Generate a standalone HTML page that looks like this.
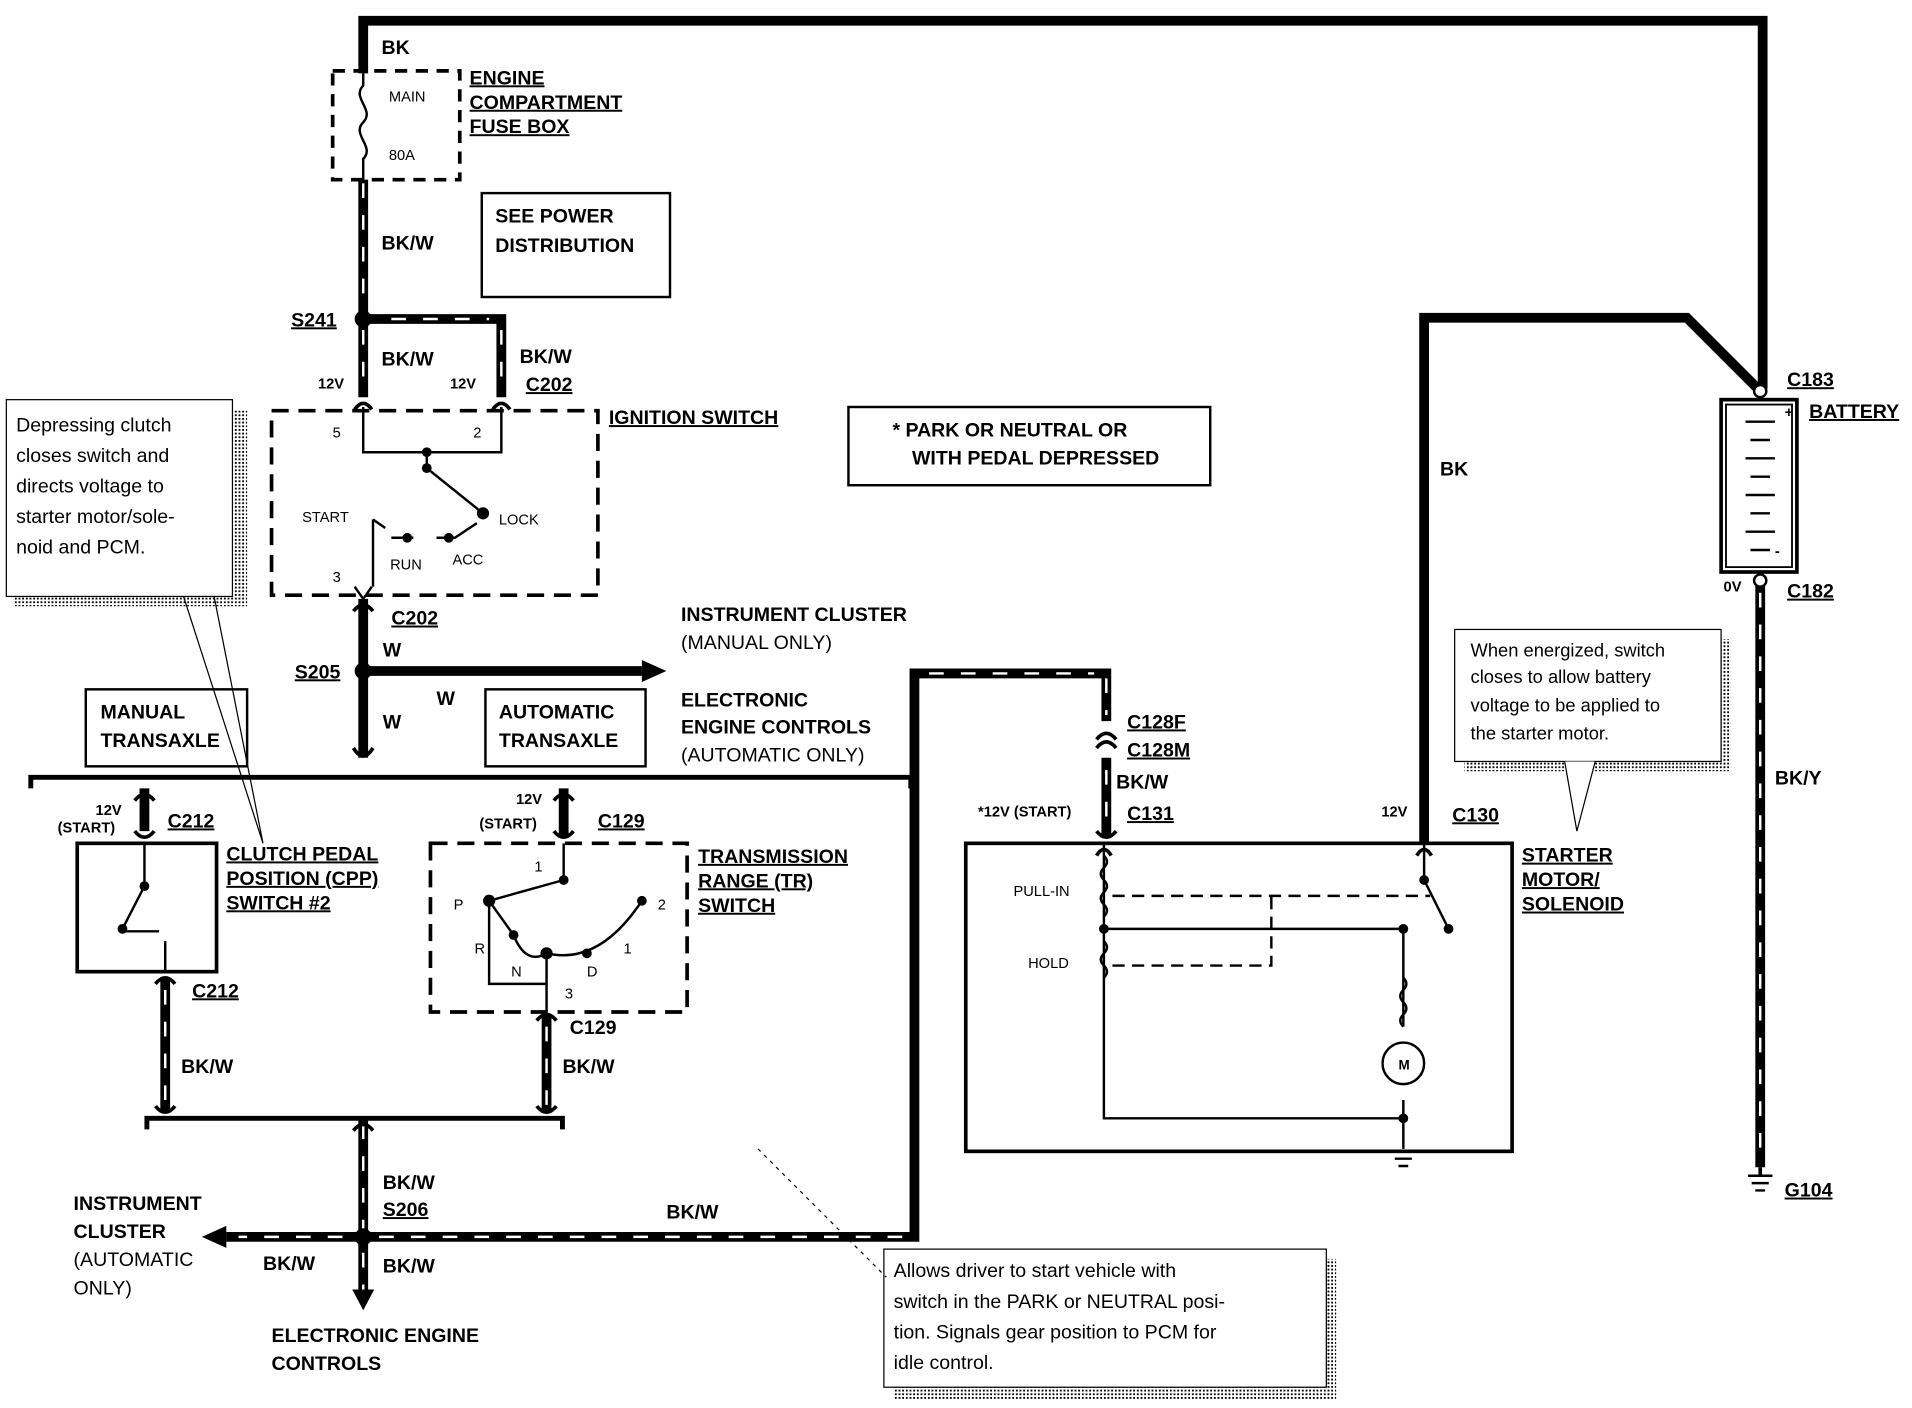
<!DOCTYPE html>
<html><head><meta charset="utf-8"><style>
html,body{margin:0;padding:0;background:#fff}
svg{display:block}
text{font-family:"Liberation Sans",sans-serif;fill:#000}
.b{font-weight:bold;font-size:16px}
.s{font-weight:bold;font-size:12px}
.n{font-size:16px}
.t{font-size:12px}
.u{text-decoration:underline}
</style></head><body>
<svg width="1912" height="1408" viewBox="0 0 1564 1152" xmlns="http://www.w3.org/2000/svg">
<defs>
<pattern id="dot" width="3" height="3" patternUnits="userSpaceOnUse"><rect width="3" height="3" fill="#fff"/><rect width="1.5" height="1.5" fill="#000"/></pattern>
</defs>
<g fill="none" stroke="#000" stroke-linecap="butt">
<polyline points="297,60 297,17 1442,17 1442,318" stroke-width="8"/>
<polyline points="1165,690 1165,260 1380,260 1438,318" stroke-width="8"/>
<rect x="272" y="58" width="104" height="89" stroke-width="3" stroke-dasharray="10,7"/>
<path d="M297,60 L297,70 C287,80 307,90 297,100 C287,110 307,120 297,130 L297,147" stroke-width="2"/>
<g stroke-width="8"><path d="M297,147 V261 H410 V325"/><path d="M297,261 V325"/>
<path d="M297,915 V1010"/><path d="M297,1012 H748 V551 H905 V590"/><path d="M297,1012 H185"/><path d="M297,1012 V1060"/>
<path d="M1440,475 V955"/><path d="M135,800 V910"/><path d="M447,830 V910"/><path d="M905,620 V685"/>
<path d="M297,490 V620"/><path d="M297,549 H525"/></g>
<g stroke="#fff" stroke-width="2" stroke-dasharray="12,14"><path d="M297,150 V255 M320,261 H400 M410,270 V320 M297,270 V320"/>
<path d="M297,920 V1005 M310,1012 H740 V560 M760,551 H895 M905,555 V585 M280,1012 H195 M297,1025 V1055 M1440,485 V950 M135,810 V905 M447,840 V905 M905,630 V680"/></g>
</g>
<g fill="#000">
<polygon points="525,540 545,549 525,558"/>
<polygon points="185,1003 165,1012 185,1021"/>
<polygon points="288,1055 297,1072 306,1055"/>
<circle cx="297" cy="261" r="7"/><circle cx="297" cy="549" r="7"/><circle cx="297" cy="1012" r="7"/>
</g>
<g fill="none" stroke="#000">
<rect x="222" y="336" width="267" height="151" stroke-width="3" stroke-dasharray="14,8"/>
<path d="M290,335 Q297,325 304,335 M403,335 Q410,325 417,335" stroke-width="3"/>
<path d="M297,333 V370 H410 V333 M349,370 V383 L395,420 M305,425 V480 M305,425 L315,432 M320,440 H338 M357,440 H372 L390,428" stroke-width="2"/>
<path d="M290,480 L297,490 L304,480" stroke-width="2"/>
<!-- connector forks -->
<path d="M289,500 Q297,490 305,500 M289,612 Q297,625 305,612 M289,925 Q297,915 305,925" stroke-width="3"/>
<path d="M110,655 Q118,645 126,655 M110,680 Q118,690 126,680 M127,805 Q135,795 143,805 M127,905 Q135,915 143,905" stroke-width="3"/>
<path d="M453,655 Q461,645 469,655 M453,680 Q461,690 469,680 M439,835 Q447,825 455,835 M439,905 Q447,915 455,905" stroke-width="3"/>
<path d="M897,605 Q905,595 913,605 M897,612 Q905,602 913,612 M897,680 Q905,690 913,680 M897,700 Q903,690 909,700 M1159,700 Q1165,690 1171,700" stroke-width="3"/>
<path d="M25,645 V636 H745 V645" stroke-width="4"/>
<path d="M120,924 V915 H460 V924" stroke-width="4"/>
<rect x="394" y="158" width="154" height="85" stroke-width="2"/>
<rect x="694" y="333" width="296" height="64" stroke-width="2"/>
<rect x="70" y="564" width="132" height="63" stroke-width="2"/>
<rect x="397" y="564" width="131" height="63" stroke-width="2"/>
<path d="M118,645 V680" stroke-width="8"/>
<rect x="63" y="690" width="114" height="105" stroke-width="3"/>
<path d="M118,690 V725 L100,760 M100,762 H130 M135,770 V795" stroke-width="2"/>
<path d="M461,645 V685" stroke-width="8"/>
<rect x="352" y="690" width="210" height="138" stroke-width="3" stroke-dasharray="14,8"/>
<path d="M461,690 V720 L400,737 V805 H447 V780 M400,737 L420,765 M447,780 Q490,790 525,737 M447,780 V828 M420,765 Q430,790 447,780" stroke-width="2"/>
<rect x="790" y="690" width="447" height="252" stroke-width="3"/>
<path d="M903,690 V760 M903,760 V915 H1148 M903,760 H1148 V840 M1148,900 V940" stroke-width="2"/>
<path d="M903,700 q5,5 0,10 q-5,5 0,10 q5,5 0,10 q-5,5 0,10 q5,5 0,10 M903,770 q5,5 0,10 q-5,5 0,10 q5,5 0,10 M1148,800 q5,5 0,10 q-5,5 0,10 q5,5 0,10 q-5,5 0,10" stroke-width="2"/>
<path d="M910,733 H1170 M910,790 H1040 V733 M1040,760 V733" stroke-width="2" stroke-dasharray="10,6"/>
<path d="M1165,690 V720 L1185,760" stroke-width="2"/>
<circle cx="1148" cy="870" r="17" stroke-width="2"/>
<path d="M1138,942 H1158 M1141,948 H1155 M1144,954 H1152" stroke-width="2"/>
<rect x="1408" y="327" width="62" height="141" stroke-width="3"/>
<rect x="1412" y="331" width="54" height="133" stroke-width="1.5"/>
<path d="M1428,345 H1452 M1432,360 H1448 M1428,375 H1452 M1432,390 H1448 M1428,405 H1452 M1432,420 H1448 M1428,435 H1452 M1432,450 H1448" stroke-width="2"/>
<path d="M1430,962 H1450 M1433,968 H1447 M1436,974 H1444" stroke-width="2"/>
<path d="M1440,955 V962" stroke-width="3"/>
</g>
<circle cx="1440" cy="320" r="5" fill="#fff" stroke="#000" stroke-width="2"/>
<circle cx="1440" cy="475" r="5" fill="#fff" stroke="#000" stroke-width="2"/>
<g fill="#000"><circle cx="349" cy="370" r="4"/><circle cx="349" cy="383" r="4"/><circle cx="395" cy="420" r="5"/><circle cx="333" cy="440" r="4"/><circle cx="367" cy="440" r="4"/>
<circle cx="118" cy="725" r="4"/><circle cx="100" cy="760" r="4"/><circle cx="461" cy="720" r="4"/><circle cx="400" cy="737" r="5"/><circle cx="420" cy="765" r="4"/><circle cx="447" cy="780" r="5"/><circle cx="480" cy="780" r="4"/><circle cx="525" cy="737" r="4"/>
<circle cx="903" cy="760" r="4"/><circle cx="1148" cy="760" r="4"/><circle cx="1148" cy="915" r="4"/><circle cx="1185" cy="760" r="4"/><circle cx="1165" cy="720" r="4"/></g>
<rect x="12" y="336" width="190" height="160" fill="url(#dot)"/>
<rect x="5" y="327" width="185" height="161" fill="#fff" stroke="#000"/>
<path d="M150,488 L215,690 M175,488 L215,690" stroke="#000" fill="none"/>
<rect x="1198" y="523" width="218" height="108" fill="url(#dot)"/>
<rect x="1190" y="515" width="218" height="108" fill="#fff" stroke="#000"/>
<path d="M1280,623 L1290,680 L1305,623" stroke="#000" fill="#fff"/>
<rect x="731" y="1030" width="362" height="115" fill="url(#dot)"/>
<rect x="723" y="1022" width="362" height="113" fill="#fff" stroke="#000"/>
<path d="M620,940 L725,1045" stroke="#000" stroke-dasharray="3,4" fill="none"/>
<text class="b" x="312" y="44">BK</text>
<text class="t" x="318" y="83">MAIN</text><text class="t" x="318" y="131">80A</text>
<text class="b u" x="384" y="69">ENGINE</text><text class="b u" x="384" y="89">COMPARTMENT</text><text class="b u" x="384" y="109">FUSE BOX</text>
<text class="b" x="405" y="182">SEE POWER</text><text class="b" x="405" y="206">DISTRIBUTION</text>
<text class="b" x="312" y="204">BK/W</text>
<text class="b u" x="238" y="267">S241</text>
<text class="b" x="312" y="299">BK/W</text><text class="b" x="425" y="297">BK/W</text><text class="b u" x="430" y="320">C202</text>
<text class="s" x="260" y="318">12V</text><text class="s" x="368" y="318">12V</text>
<text class="b u" x="498" y="347">IGNITION SWITCH</text>
<text class="t" x="272" y="358">5</text><text class="t" x="387" y="358">2</text><text class="t" x="272" y="476">3</text>
<text class="t" x="247" y="427">START</text><text class="t" x="408" y="429">LOCK</text><text class="t" x="319" y="466">RUN</text><text class="t" x="370" y="462">ACC</text>
<text class="b" x="730" y="357">*  PARK OR NEUTRAL OR</text><text class="b" x="746" y="380">WITH PEDAL DEPRESSED</text>
<text class="n" x="13" y="353">Depressing clutch</text><text class="n" x="13" y="378">closes switch and</text><text class="n" x="13" y="403">directs voltage to</text><text class="n" x="13" y="428">starter motor/sole-</text><text class="n" x="13" y="453">noid and PCM.</text>
<text class="b u" x="320" y="511">C202</text>
<text class="b" x="313" y="537">W</text><text class="b u" x="241" y="555">S205</text>
<text class="b" x="557" y="508">INSTRUMENT CLUSTER</text><text class="n" x="557" y="531">(MANUAL ONLY)</text>
<text class="b" x="557" y="578">ELECTRONIC</text><text class="b" x="557" y="600">ENGINE CONTROLS</text><text class="n" x="557" y="623">(AUTOMATIC ONLY)</text>
<text class="b" x="357" y="577">W</text><text class="b" x="313" y="596">W</text>
<text class="b" x="82" y="588">MANUAL</text><text class="b" x="82" y="611">TRANSAXLE</text>
<text class="b" x="408" y="588">AUTOMATIC</text><text class="b" x="408" y="611">TRANSAXLE</text>
<text class="s" x="78" y="667">12V</text><text class="s" x="47" y="681">(START)</text><text class="b u" x="137" y="677">C212</text>
<text class="s" x="422" y="658">12V</text><text class="s" x="392" y="678">(START)</text><text class="b u" x="489" y="677">C129</text>
<text class="b u" x="185" y="704">CLUTCH PEDAL</text><text class="b u" x="185" y="724">POSITION (CPP)</text><text class="b u" x="185" y="744">SWITCH #2</text>
<text class="b u" x="571" y="706">TRANSMISSION</text><text class="b u" x="571" y="726">RANGE (TR)</text><text class="b u" x="571" y="746">SWITCH</text>
<text class="t" x="437" y="713">1</text><text class="t" x="371" y="744">P</text><text class="t" x="538" y="744">2</text><text class="t" x="388" y="780">R</text><text class="t" x="418" y="799">N</text><text class="t" x="480" y="799">D</text><text class="t" x="510" y="780">1</text><text class="t" x="462" y="817">3</text>
<text class="b u" x="157" y="816">C212</text><text class="b" x="466" y="846">C129</text>
<text class="b" x="148" y="878">BK/W</text><text class="b" x="460" y="878">BK/W</text>
<text class="b" x="313" y="973">BK/W</text><text class="b u" x="313" y="995">S206</text><text class="b" x="545" y="997">BK/W</text>
<text class="b" x="60" y="990">INSTRUMENT</text><text class="b" x="60" y="1013">CLUSTER</text><text class="n" x="60" y="1036">(AUTOMATIC</text><text class="n" x="60" y="1059">ONLY)</text>
<text class="b" x="215" y="1039">BK/W</text><text class="b" x="313" y="1041">BK/W</text>
<text class="b" x="222" y="1098">ELECTRONIC ENGINE</text><text class="b" x="222" y="1121">CONTROLS</text>
<text class="n" x="731" y="1045">Allows driver to start vehicle with</text><text class="n" x="731" y="1070">switch in the PARK or NEUTRAL posi-</text><text class="n" x="731" y="1095">tion.  Signals gear position to PCM for</text><text class="n" x="731" y="1120">idle control.</text>
<text class="b u" x="922" y="596">C128F</text><text class="b u" x="922" y="619">C128M</text><text class="b" x="913" y="645">BK/W</text>
<text class="s" x="800" y="668">*12V (START)</text><text class="b u" x="922" y="671">C131</text>
<text class="t" x="829" y="733">PULL-IN</text><text class="t" x="841" y="792">HOLD</text>
<text class="b" x="1144" y="875" style="font-size:11px">M</text>
<text class="b" x="1178" y="389">BK</text>
<text class="s" x="1130" y="668">12V</text><text class="b u" x="1188" y="672">C130</text>
<text class="b u" x="1245" y="705">STARTER</text><text class="b u" x="1245" y="725">MOTOR/</text><text class="b u" x="1245" y="745">SOLENOID</text>
<text class="n" x="1203" y="537" style="font-size:15px">When energized, switch</text><text class="n" x="1203" y="559" style="font-size:15px">closes to allow battery</text><text class="n" x="1203" y="582" style="font-size:15px">voltage to be applied to</text><text class="n" x="1203" y="605" style="font-size:15px">the starter motor.</text>
<text class="b u" x="1462" y="316">C183</text><text class="b u" x="1480" y="342">BATTERY</text>
<text class="s" x="1460" y="341">+</text><text class="s" x="1452" y="455">-</text>
<text class="s" x="1410" y="484">0V</text><text class="b u" x="1462" y="489">C182</text>
<text class="b" x="1452" y="642">BK/Y</text><text class="b u" x="1460" y="979">G104</text>
</svg>
</body></html>
